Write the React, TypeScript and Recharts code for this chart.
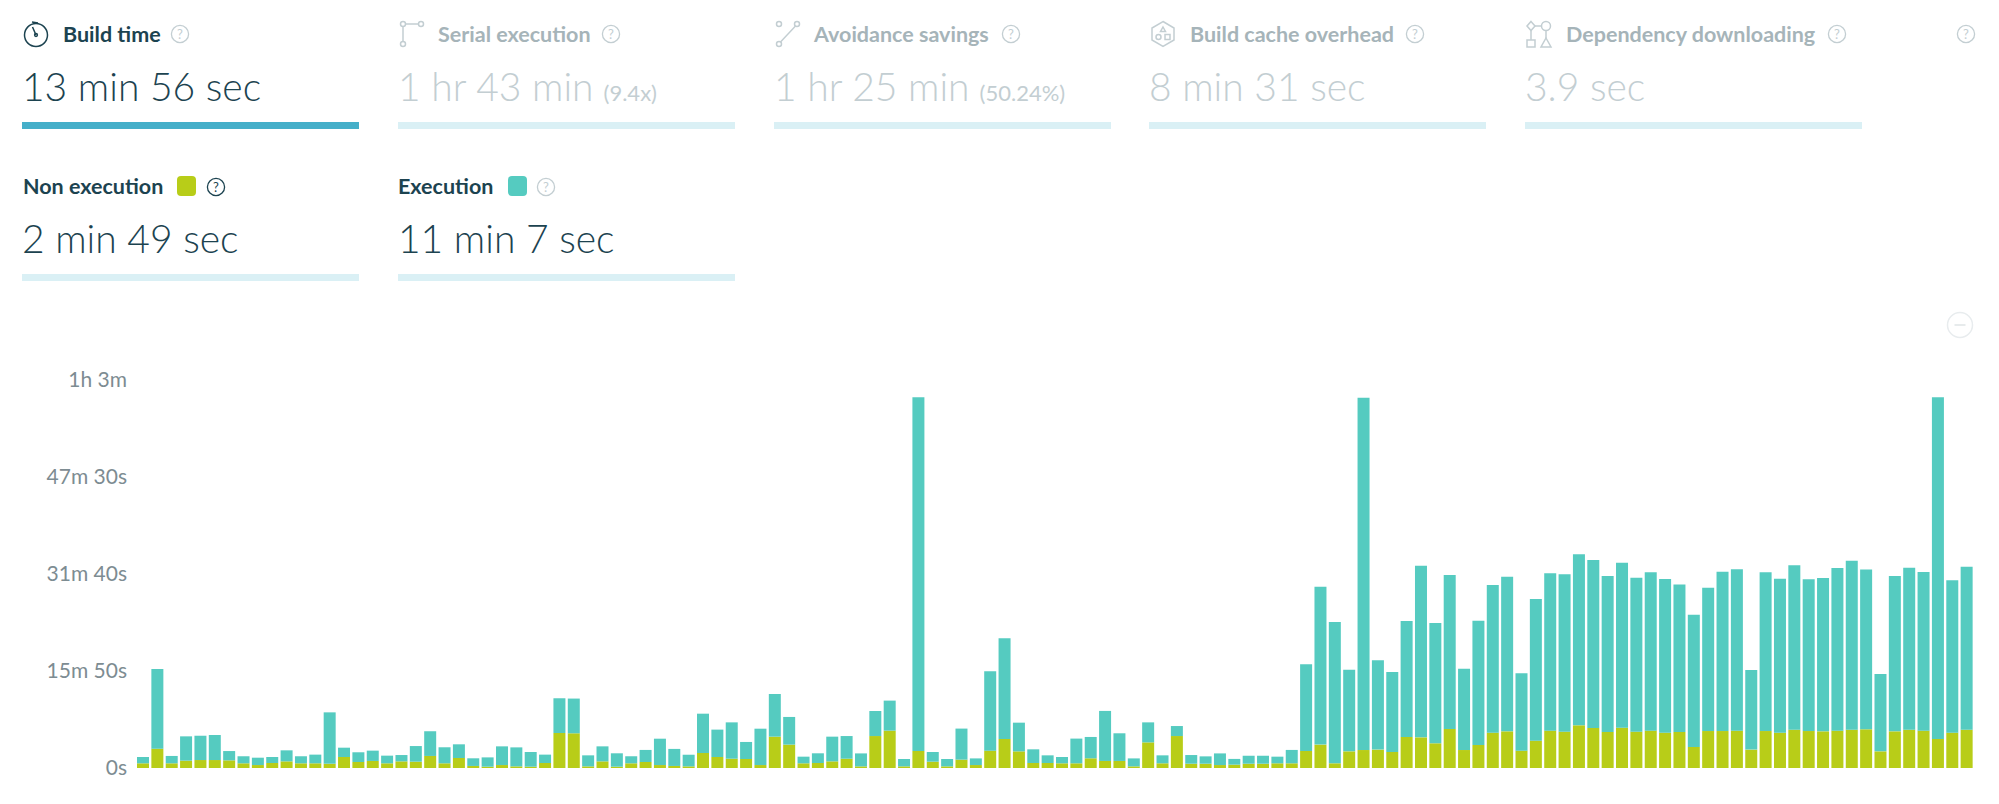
import { BarChart, Bar, XAxis, YAxis } from 'recharts';

const nonExecution = [
  46, 189, 46, 72, 78, 78, 75, 46, 29, 49, 65, 46, 46, 42, 108, 59, 69, 46, 65, 62, 118, 46, 98, 20, 13, 29, 16, 13, 49, 343, 340, 16,
  65, 13, 46, 59, 29, 20, 16, 147, 108, 91, 88, 29, 307, 229, 46, 49, 65, 91, 16, 313, 366, 16, 167, 62, 16, 82, 29, 170, 284, 163, 49, 49,
  46, 46, 95, 69, 69, 16, 251, 46, 313, 42, 42, 29, 33, 42, 42, 46, 46, 167, 229, 46, 163, 176, 180, 157, 304, 300, 242, 382, 176, 225, 346, 359,
  170, 268, 366, 356, 418, 392, 353, 395, 356, 366, 346, 353, 206, 362, 362, 366, 180, 362, 346, 375, 362, 359, 366, 375, 379, 163, 359, 375, 366, 284, 346, 375,
];

const execution = [
  62, 780, 72, 238, 238, 245, 91, 69, 72, 59, 108, 69, 85, 503, 91, 95, 101, 75, 62, 153, 242, 157, 134, 75, 91, 183, 186, 144, 82, 340, 340, 108,
  147, 131, 69, 118, 258, 167, 114, 385, 268, 356, 167, 356, 418, 271, 65, 95, 242, 222, 127, 245, 294, 72, 3463, 95, 72, 304, 65, 777, 986, 281, 134, 75,
  62, 242, 209, 490, 271, 78, 196, 78, 98, 85, 72, 114, 56, 78, 78, 65, 131, 849, 1547, 1384, 800, 3450, 875, 784, 1136, 1681, 1179, 1508, 797, 1218, 1446, 1515,
  757, 1388, 1541, 1541, 1675, 1646, 1528, 1616, 1508, 1551, 1505, 1443, 1296, 1404, 1561, 1580, 780, 1554, 1508, 1610, 1486, 1502, 1593, 1655, 1564, 757, 1521, 1587, 1554, 3346, 1492, 1597,
];

const yTicks = [0, 950, 1900, 2850, 3800];
const yTickLabels = ['0s', '15m 50s', '31m 40s', '47m 30s', '1h 3m'];

const chartData = nonExecution.map((value, i) => ({
  build: i + 1,
  nonExecution: value,
  execution: execution[i],
}));

const TEAL = '#55cbc0';
const LIME = '#b8cd18';
const DARK = '#1c4350';
const GREY = '#a6b4b9';
const FAINT = '#c3ced2';
const FONT = 'Lato, sans-serif';

const Help = ({ x, y, color }: { x: number; y: number; color: string }) => (
  <svg style={{ position: 'absolute', left: x - 10, top: y - 10 }} width={20} height={20} viewBox="0 0 20 20">
    <circle cx={10} cy={10} r={8.6} fill="none" stroke={color} strokeWidth={1.3} />
    <text x={10} y={14.5} textAnchor="middle" fontSize={13} fontFamily={FONT} fill={color}>?</text>
  </svg>
);

const Icon = ({ x, children }: { x: number; children: React.ReactNode }) => (
  <svg style={{ position: 'absolute', left: x, top: 20 }} width={28} height={28} viewBox="0 0 28 28" fill="none" strokeWidth={1.5}>
    {children}
  </svg>
);

const Title = ({ x, y, color, children }: { x: number; y: number; color: string; children: React.ReactNode }) => (
  <div style={{ position: 'absolute', left: x, top: y - 15, lineHeight: '28px', fontSize: 21.5, fontWeight: 700, color, whiteSpace: 'nowrap' }}>
    {children}
  </div>
);

const Value = ({ x, y, color, text, note }: { x: number; y: number; color: string; text: string; note?: string }) => (
  <div style={{ position: 'absolute', left: x, top: y - 2, lineHeight: '50px', fontSize: 39, fontWeight: 300, color, whiteSpace: 'nowrap' }}>
    {text}
    {note ? <span style={{ fontSize: 22, fontWeight: 400, marginLeft: 10 }}>{note}</span> : null}
  </div>
);

const Underline = ({ x, y, color }: { x: number; y: number; color: string }) => (
  <div style={{ position: 'absolute', left: x, top: y, width: 337, height: 7, background: color }} />
);

const Swatch = ({ x, color }: { x: number; color: string }) => (
  <div style={{ position: 'absolute', left: x, top: 176, width: 19, height: 20, borderRadius: 4, background: color }} />
);

export default function App() {
  return (
    <div style={{ position: 'absolute', left: 0, top: 0, width: 1999, height: 804, overflow: 'hidden', background: '#fff', fontFamily: FONT }}>
      <Icon x={22}>
        <g stroke={DARK}>
          <circle cx={14} cy={15} r={11.5} />
          <path d="M14 15 L10.5 7 M10 2 L16 3" />
          <circle cx={14} cy={15} r={1.4} />
        </g>
      </Icon>
      <Title x={63} y={35} color={DARK}>Build time</Title>
      <Help x={180} y={34} color={FAINT} />
      <Value x={22} y={63} color={DARK} text="13 min 56 sec" />
      <Underline x={22} y={122} color="#45afc9" />

      <Icon x={397}>
        <g stroke={FAINT}>
          <circle cx={6} cy={4} r={2.5} />
          <circle cx={24} cy={4} r={2.5} />
          <circle cx={6} cy={24} r={2.5} />
          <path d="M8.5 4 H21.5 M6 6.5 V21.5" />
        </g>
      </Icon>
      <Title x={438} y={35} color={GREY}>Serial execution</Title>
      <Help x={611} y={34} color={FAINT} />
      <Value x={398} y={63} color={FAINT} text="1 hr 43 min" note="(9.4x)" />
      <Underline x={398} y={122} color="#daf0f5" />

      <Icon x={773}>
        <g stroke={FAINT}>
          <circle cx={6} cy={24} r={2.5} />
          <circle cx={24} cy={4} r={2.5} />
          <circle cx={6} cy={4} r={2.5} />
          <path d="M7.5 22 L22.5 6" />
        </g>
      </Icon>
      <Title x={814} y={35} color={GREY}>Avoidance savings</Title>
      <Help x={1011} y={34} color={FAINT} />
      <Value x={774} y={63} color={FAINT} text="1 hr 25 min" note="(50.24%)" />
      <Underline x={774} y={122} color="#daf0f5" />

      <Icon x={1149}>
        <g stroke={FAINT}>
          <path d="M14 1.5 L25 8 V20 L14 26.5 L3 20 V8 Z" />
          <path d="M14 7 L16.5 11.5 H11.5 Z" />
          <circle cx={9.5} cy={17} r={2.5} />
          <rect x={16} y={14.5} width={5} height={5} />
        </g>
      </Icon>
      <Title x={1190} y={35} color={GREY}>Build cache overhead</Title>
      <Help x={1415} y={34} color={FAINT} />
      <Value x={1149} y={63} color={FAINT} text="8 min 31 sec" />
      <Underline x={1149} y={122} color="#daf0f5" />

      <Icon x={1525}>
        <g stroke={FAINT}>
          <path d="M6 1.5 L10 6 L6 10.5 L2 6 Z" />
          <circle cx={21} cy={6} r={4.5} />
          <rect x={2} y={20} width={8} height={7} />
          <path d="M21 18 L26 27 H16 Z" />
          <path d="M10 6 H16.5 M6 10.5 V20 M21 10.5 V18" />
        </g>
      </Icon>
      <Title x={1566} y={35} color={GREY}>Dependency downloading</Title>
      <Help x={1837} y={34} color={FAINT} />
      <Value x={1525} y={63} color={FAINT} text="3.9 sec" />
      <Underline x={1525} y={122} color="#daf0f5" />

      <Help x={1966} y={34} color={FAINT} />

      <Title x={23} y={187} color={DARK}>Non execution</Title>
      <Swatch x={177} color={LIME} />
      <Help x={216} y={187} color={DARK} />
      <Value x={22} y={215} color={DARK} text="2 min 49 sec" />
      <Underline x={22} y={274} color="#daf0f5" />

      <Title x={398} y={187} color={DARK}>Execution</Title>
      <Swatch x={508} color={TEAL} />
      <Help x={546} y={187} color={FAINT} />
      <Value x={398} y={215} color={DARK} text="11 min 7 sec" />
      <Underline x={398} y={274} color="#daf0f5" />

      <svg style={{ position: 'absolute', left: 1946, top: 311 }} width={28} height={28} viewBox="0 0 28 28">
        <circle cx={14} cy={14} r={12.5} fill="none" stroke="#e8ecee" strokeWidth={1.5} />
        <path d="M8.5 14 H19.5" stroke="#dfe4e6" strokeWidth={1.5} />
      </svg>

      <div style={{ position: 'absolute', left: 0, top: 0 }}>
        <BarChart
          width={1999}
          height={804}
          data={chartData}
          margin={{ top: 380, right: 25, bottom: 36, left: 0 }}
          barCategoryGap={1}
        >
          <XAxis dataKey="build" hide />
          <YAxis
            width={136}
            domain={[0, 3800]}
            ticks={yTicks}
            interval={0}
            axisLine={false}
            tickLine={false}
            tickMargin={3}
            tick={{ fill: '#7d8c92', fontSize: 21, fontFamily: FONT }}
            tickFormatter={(v: number) => yTickLabels[yTicks.indexOf(v)]}
          />
          <Bar dataKey="nonExecution" stackId="time" fill={LIME} isAnimationActive={false} />
          <Bar dataKey="execution" stackId="time" fill={TEAL} isAnimationActive={false} />
        </BarChart>
      </div>
    </div>
  );
}
